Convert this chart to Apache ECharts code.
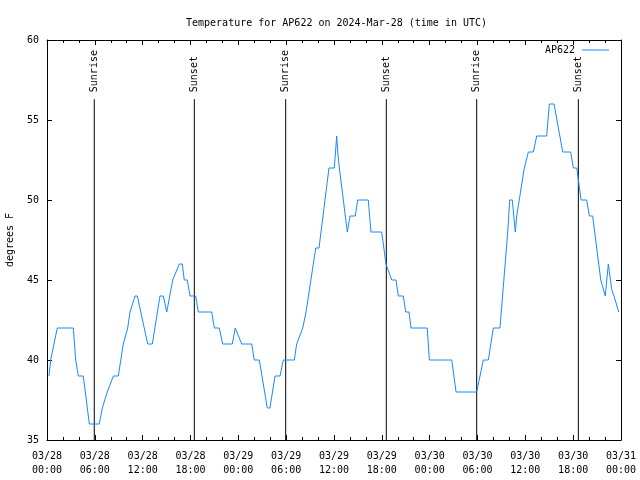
<!DOCTYPE html>
<html><head><meta charset="utf-8">
<script src="https://cdn.jsdelivr.net/npm/echarts@6/dist/echarts.min.js"></script>
<style>html,body{margin:0;padding:0;background:#fff}#c{width:640px;height:480px}</style>
</head><body><div id="c"></div>
<script>
// hours since 2024-03-28 00:00 UTC
const hours = [0.25,0.46,1.29,3.30,3.60,3.93,4.55,5.31,6.56,6.94,7.56,8.32,8.94,9.57,10.12,10.41,11.04,11.33,12.63,13.21,
14.17,14.59,15.02,15.77,16.60,16.97,17.22,17.60,17.94,18.65,18.98,20.66,20.99,21.61,22.04,23.24,23.62,24.42,25.68,26.00,
26.63,27.63,27.97,28.60,29.23,29.64,31.02,31.32,32.08,32.49,33.71,34.12,35.37,36.04,36.34,36.47,36.67,37.42,37.67,38.01,
38.67,38.97,40.30,40.64,41.98,42.52,43.24,43.78,44.07,44.69,45.00,45.41,45.66,47.70,47.96,50.77,51.31,53.90,54.73,55.36,
55.98,56.82,57.79,58.04,58.37,58.74,58.92,59.87,60.38,61.00,61.43,62.68,63.01,63.60,64.69,65.69,66.02,66.45,66.99,67.70,
68.03,68.45,69.46,70.03,70.41,70.84,71.12,71.71];
const temps = [39,40,42,42,40,39,39,36,36,37,38,39,39,41,42,43,44,44,41,41,
44,44,43,45,46,46,45,45,44,44,43,43,42,42,41,41,42,41,41,40,
40,37,37,39,39,40,40,41,42,43,47,47,52,52,54,53,52,49,48,49,
49,50,50,48,48,46,45,45,44,44,43,43,42,42,40,40,38,38,40,40,
42,42,48,50,50,48,49,52,53,53,54,54,56,56,53,53,52,52,50,50,
49,49,45,44,46,44.4,44,43];
const sunriseHours = [5.93, 29.94, 53.90];
const sunsetHours = [18.48, 42.56, 66.65];
const eventLineTop = 56.3;
const xTickLabels = ['03/28\n00:00','03/28\n06:00','03/28\n12:00','03/28\n18:00','03/29\n00:00','03/29\n06:00',
'03/29\n12:00','03/29\n18:00','03/30\n00:00','03/30\n06:00','03/30\n12:00','03/30\n18:00','03/31\n00:00'];
const yMin = 35, yMax = 60, yStep = 5;
const seriesName = 'AP622';
const titleText = 'Temperature for AP622 on 2024-Mar-28 (time in UTC)';

const FONT = 'DejaVu Sans Mono';
const txt = {fontFamily: FONT, fontSize: 10, color: '#000'};

function eventSeries(h, name) {
  return {
    type: 'line', silent: true, animation: false,
    symbol: 'circle', symbolSize: 0, showSymbol: true,
    lineStyle: {color: '#000', width: 1},
    itemStyle: {color: '#000'},
    data: [[h, yMin], {value: [h, eventLineTop], label: {
      show: true, formatter: name, position: 'top', rotate: 90, align: 'left', verticalAlign: 'middle',
      distance: 7, fontFamily: FONT, fontSize: 10, color: '#000'}}],
    z: 3
  };
}

const chart = echarts.init(document.getElementById('c'), null, {renderer: 'canvas'});
const axisCommon = {
  type: 'value', min: 0, max: 72, interval: 6,
  axisLine: {show: true, onZero: false, lineStyle: {color: '#000', width: 1}},
  axisTick: {show: true, inside: true, length: 5, lineStyle: {color: '#000'}},
  minorTick: {show: true, splitNumber: 3, length: 3, lineStyle: {color: '#000'}},
  splitLine: {show: false}
};
const yCommon = {
  type: 'value', min: yMin, max: yMax, interval: yStep,
  axisLine: {show: true, onZero: false, lineStyle: {color: '#000', width: 1}},
  axisTick: {show: true, inside: true, length: 5, lineStyle: {color: '#000'}},
  splitLine: {show: false}
};
const series = [{
  name: seriesName, type: 'line', symbol: 'none', animation: false,
  lineStyle: {color: '#1a88ff', width: 1}, itemStyle: {color: '#1a88ff'},
  data: hours.map((h, i) => [h, temps[i]]), z: 4
}];
sunriseHours.forEach(h => series.push(eventSeries(h, 'Sunrise')));
sunsetHours.forEach(h => series.push(eventSeries(h, 'Sunset')));

chart.setOption({
  backgroundColor: '#fff',
  animation: false,
  title: {text: titleText, left: 181, top: 13, textStyle: {fontFamily: FONT, fontSize: 10, fontWeight: 'normal', color: '#000'}},
  legend: {data: [seriesName], right: 31, top: 45, padding: 0, align: 'right', icon: 'rect', itemWidth: 27, itemHeight: 1,
    itemGap: 5, textStyle: {fontFamily: FONT, fontSize: 10, color: '#000', padding: [0, 2, 0, 0]}},
  grid: {left: 47, right: 19, top: 40, bottom: 40, containLabel: false, outerBoundsMode: 'none'},
  xAxis: [
    Object.assign({}, axisCommon, {position: 'bottom',
      axisLabel: Object.assign({}, txt, {margin: 9, lineHeight: 14, formatter: v => xTickLabels[Math.round(v / 6)]})}),
    Object.assign({}, axisCommon, {position: 'top', axisLabel: {show: false}})
  ],
  yAxis: [
    Object.assign({}, yCommon, {position: 'left', name: 'degrees F', nameLocation: 'middle', nameRotate: 90, nameGap: 32,
      nameTextStyle: txt, axisLabel: Object.assign({}, txt, {margin: 8})}),
    Object.assign({}, yCommon, {position: 'right', axisLabel: {show: false}})
  ],
  series: series
});
</script></body></html>
